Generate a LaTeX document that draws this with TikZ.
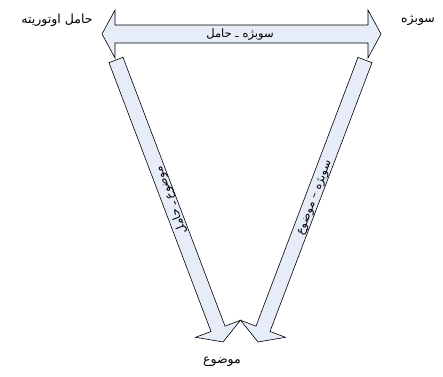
\documentclass[tikz,border=0pt]{standalone}
\usepackage{fontspec}
\newfontfamily\arabicfont[Script=Arabic]{DejaVu Sans}
\TeXXeTstate=1
\definecolor{arrowfill}{RGB}{230,236,248}
\begin{document}
\begin{tikzpicture}[x=1pt,y=-1pt,
  arrowbody/.style={draw=black,fill=arrowfill,line width=0.6pt,line join=miter},
  biglbl/.style={font=\arabicfont\fontsize{12.5}{14}\selectfont,inner sep=0pt},
  smalllbl/.style={font=\arabicfont\fontsize{11.5}{13}\selectfont,inner sep=0pt}]
\useasboundingbox (0,0) rectangle (443,376);
% top double arrow
\draw[arrowbody] (102,34) -- (115,10) -- (115,25) -- (368,25) -- (368,10) -- (381,34)
  -- (368,58) -- (368,43) -- (115,43) -- (115,58) -- cycle;
% left diagonal arrow
\begin{scope}[shift={(116,60)},rotate=-69.22]
  \draw[arrowbody] (0,-7.5) -- (287.5,-7.5) -- (287.5,-24) -- (301.6,0) -- (287.5,24)
    -- (287.5,7.5) -- (0,7.5) -- cycle;
\end{scope}
% right diagonal arrow
\begin{scope}[shift={(365,60)},rotate=-110.78]
  \draw[arrowbody] (0,-7.5) -- (287.5,-7.5) -- (287.5,-24) -- (301.6,0) -- (287.5,24)
    -- (287.5,7.5) -- (0,7.5) -- cycle;
\end{scope}
% labels
\node[biglbl] (authority) at (57,20) {\beginR حامل اوتوریته\endR};
\node[biglbl] (subject) at (418,20) {\beginR سوبژه\endR};
\node[biglbl] (object) at (222,362) {\beginR موضوع\endR};
\node[smalllbl] (sh) at (240,35) {\beginR سوبژه ـ حامل\endR};
\node[smalllbl,rotate=111] (oh) at (171,200) {\beginR موضوع ـ حامل\endR};
\node[smalllbl,rotate=69] (so) at (315,198) {\beginR سوبژه – موضوع\endR};
\end{tikzpicture}
\end{document}
